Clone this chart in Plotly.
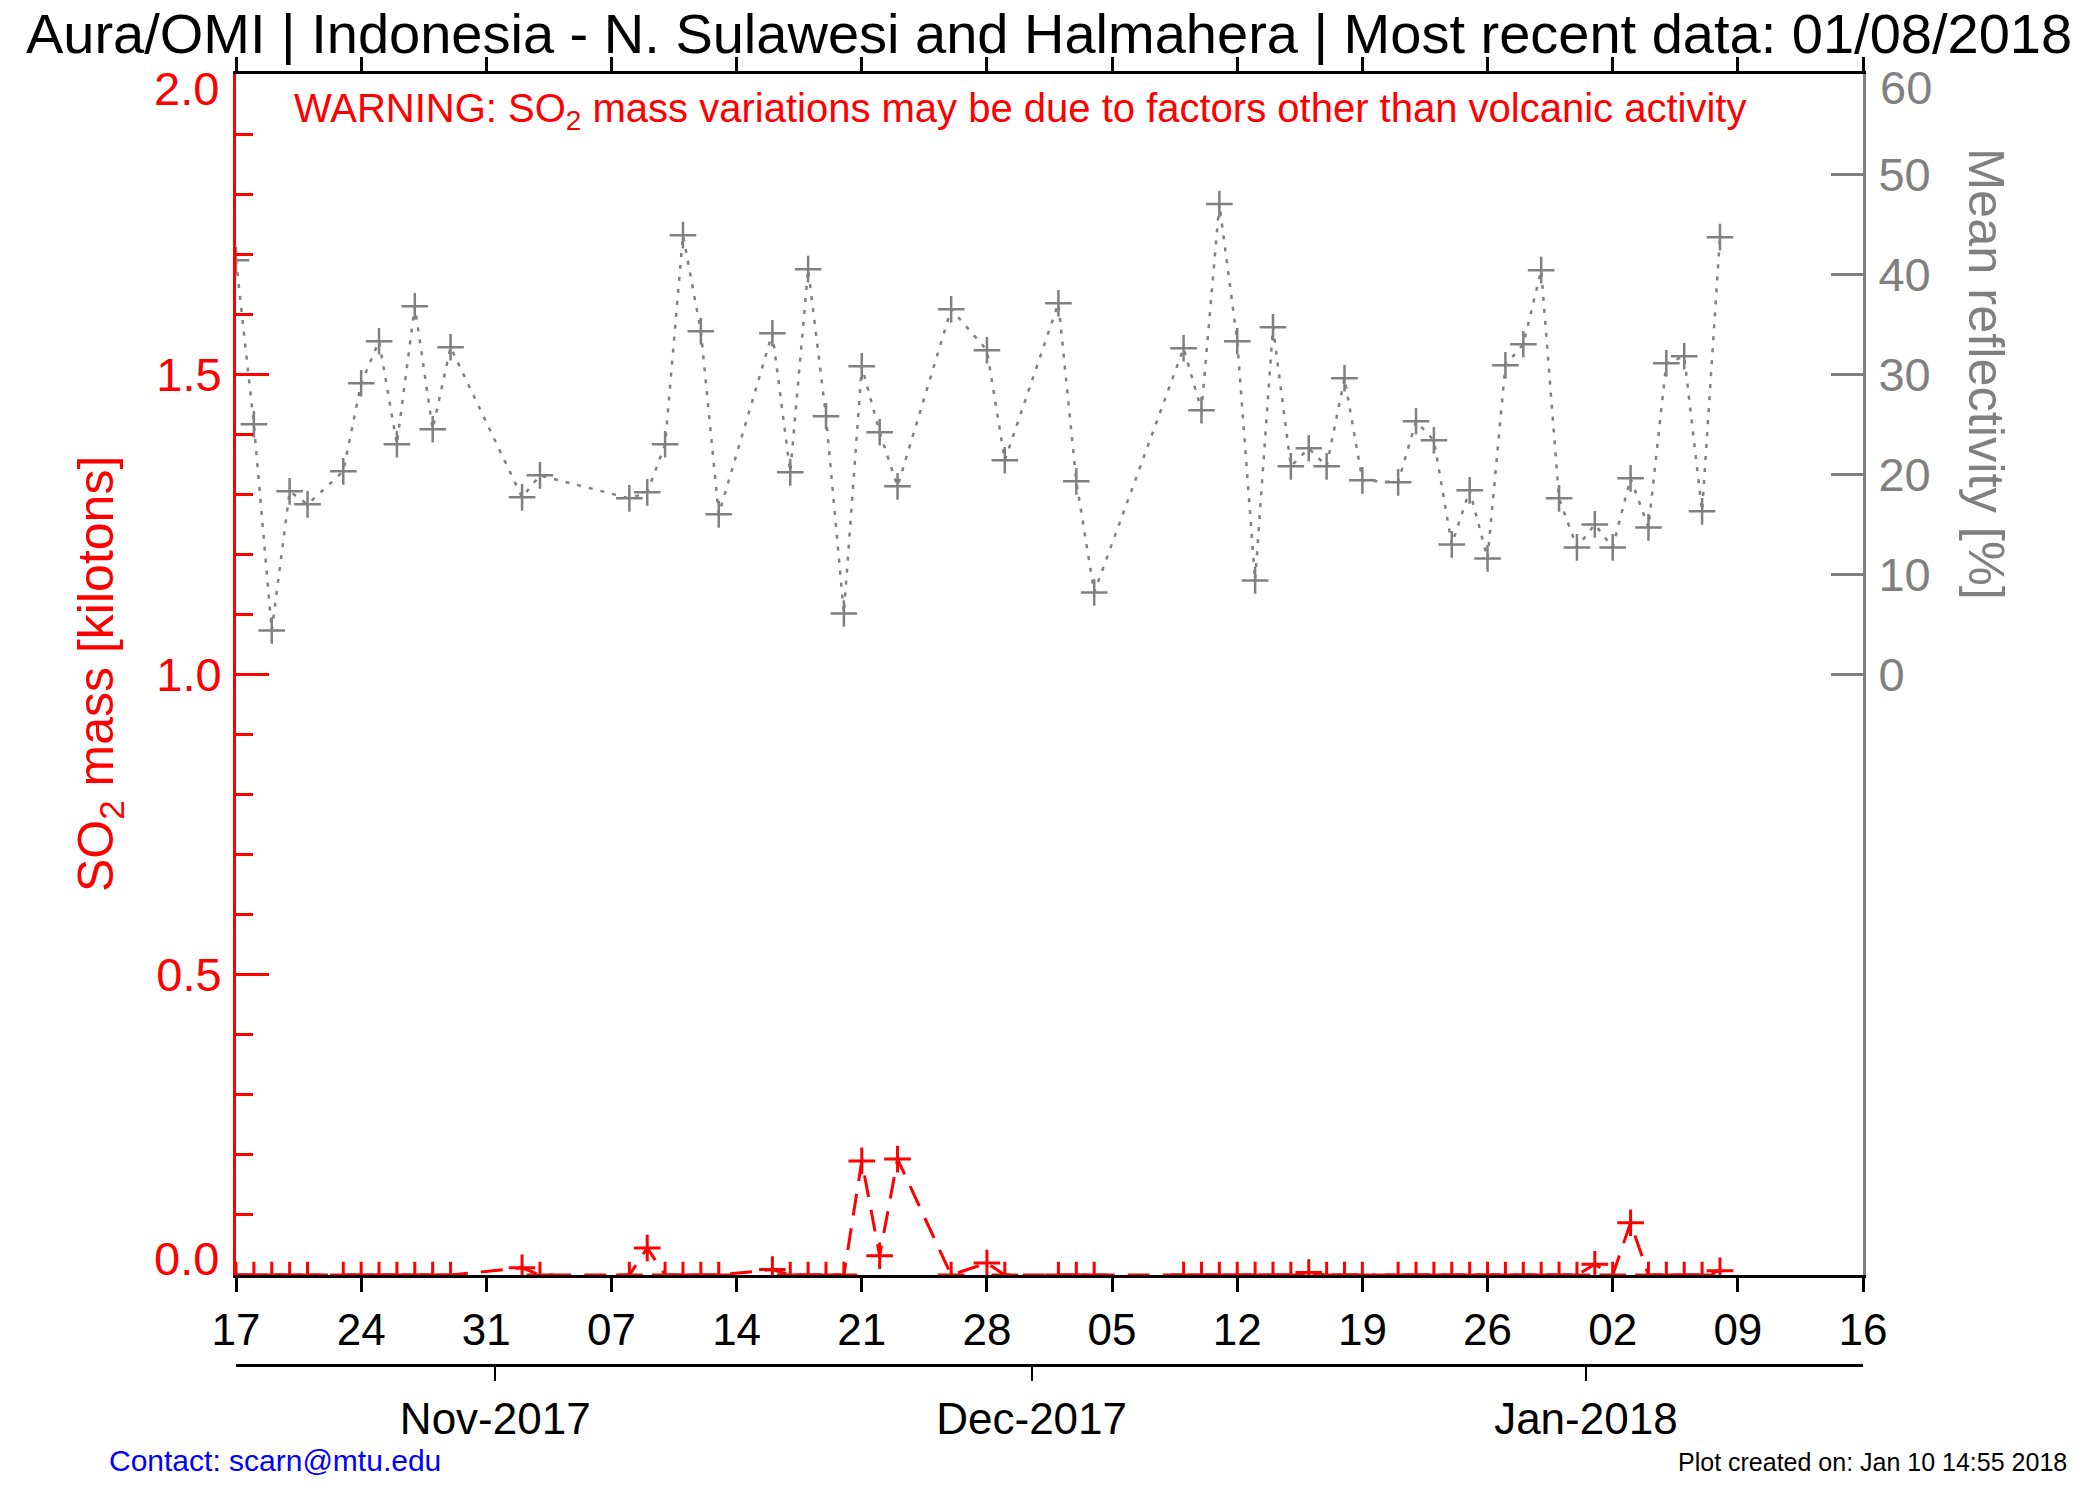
import plotly.graph_objects as go

# ---------------- data ----------------
obs_dates = [
    "2017-10-17", "2017-10-18", "2017-10-19", "2017-10-20", "2017-10-21",
    "2017-10-23", "2017-10-24", "2017-10-25", "2017-10-26", "2017-10-27",
    "2017-10-28", "2017-10-29", "2017-11-02", "2017-11-03", "2017-11-08",
    "2017-11-09", "2017-11-10", "2017-11-11", "2017-11-12", "2017-11-13",
    "2017-11-16", "2017-11-17", "2017-11-18", "2017-11-19", "2017-11-20",
    "2017-11-21", "2017-11-22", "2017-11-23", "2017-11-26", "2017-11-28",
    "2017-11-29", "2017-12-02", "2017-12-03", "2017-12-04", "2017-12-09",
    "2017-12-10", "2017-12-11", "2017-12-12", "2017-12-13", "2017-12-14",
    "2017-12-15", "2017-12-16", "2017-12-17", "2017-12-18", "2017-12-19",
    "2017-12-21", "2017-12-22", "2017-12-23", "2017-12-24", "2017-12-25",
    "2017-12-26", "2017-12-27", "2017-12-28", "2017-12-29", "2017-12-30",
    "2017-12-31", "2018-01-01", "2018-01-02", "2018-01-03", "2018-01-04",
    "2018-01-05", "2018-01-06", "2018-01-07", "2018-01-08",
]

reflectivity = [
    41.4, 25.0, 4.4, 18.3, 17.0,
    20.3, 29.1, 33.3, 23.0, 36.8,
    24.5, 32.7, 17.7, 19.9, 17.6,
    18.2, 23.0, 43.9, 34.3, 16.0,
    34.1, 20.2, 40.5, 25.8, 6.1,
    30.8, 24.2, 18.8, 36.5, 32.4,
    21.4, 37.1, 19.3, 8.2, 32.6,
    26.4, 47.0, 33.3, 9.4, 34.7,
    20.8, 22.6, 20.8, 29.6, 19.4,
    19.2, 25.3, 23.4, 13.0, 18.4,
    11.6, 30.9, 33.0, 40.4, 17.6,
    12.7, 15.0, 12.7, 19.6, 14.7,
    31.1, 31.8, 16.3, 43.7,
]

so2_mass = [
    0.0, 0.0, 0.0, 0.0, 0.0,
    0.0, 0.0, 0.0, 0.0, 0.0,
    0.0, 0.0, 0.012, 0.0, 0.0,
    0.045, 0.0, 0.0, 0.0, 0.0,
    0.009, 0.0, 0.0, 0.0, 0.0,
    0.19, 0.032, 0.193, 0.0, 0.02,
    0.0, 0.0, 0.0, 0.0, 0.0,
    0.0, 0.0, 0.0, 0.0, 0.0,
    0.0, 0.004, 0.0, 0.0, 0.0,
    0.0, 0.0, 0.0, 0.0, 0.0,
    0.0, 0.0, 0.0, 0.0, 0.0,
    0.0, 0.018, 0.0, 0.087, 0.0,
    0.0, 0.0, 0.0, 0.007,
]

x_range = ["2017-10-17", "2018-01-16"]
day_tick0 = "2017-10-17"
month_tick_dates = ["2017-10-31 12:00", "2017-11-30 12:00", "2017-12-31 12:00"]
month_tick_labels = ["Nov-2017", "Dec-2017", "Jan-2018"]
so2_tick_vals = [0.0, 0.5, 1.0, 1.5, 2.0]
so2_tick_labels = ["0.0", "0.5", "1.0", "1.5", "2.0"]
refl_tick_vals = [0, 10, 20, 30, 40, 50, 60]
refl_tick_labels = ["0", "10", "20", "30", "40", "50", "60"]

title_text = "Aura/OMI | Indonesia - N. Sulawesi and Halmahera | Most recent data: 01/08/2018"
warning_text = "WARNING: SO<sub>2</sub> mass variations may be due to factors other than volcanic activity"
left_title = "SO<sub>2</sub> mass [kilotons]"
right_title = "Mean reflectivity [%]"
contact_text = "Contact: scarn@mtu.edu"
created_text = "Plot created on: Jan 10 14:55 2018"

# ---------------- styling / geometry ----------------
RED = "#FF0000"
GRAY = "#808080"
BLUE = "#0000FF"
FONT = "Liberation Sans, Arial, Helvetica, sans-serif"

PAGE_W, PAGE_H = 2100, 1500
OFF = 8                      # default body margin of the html page
W, H = PAGE_W - OFF, PAGE_H - OFF

# page-pixel geometry of the plot box
P_LEFT, P_RIGHT, P_TOP, P_BOTTOM = 236, 1863, 74, 1275
MONTH_AXIS_Y = 1365
PAPER_BOTTOM = 1400          # page y of paper bottom

ML = P_LEFT - OFF
MR = W - (P_RIGHT - OFF)
MT = P_TOP - OFF
MB = H - (PAPER_BOTTOM - OFF)
PAPER_W = P_RIGHT - P_LEFT
PAPER_H = PAPER_BOTTOM - P_TOP


def pyf(page_y):
    return (PAPER_BOTTOM - page_y) / PAPER_H


def pxf(page_x):
    return (page_x - P_LEFT) / PAPER_W


fig = go.Figure()

fig.add_trace(go.Scatter(
    x=obs_dates, y=reflectivity, xaxis="x", yaxis="y2",
    mode="lines+markers",
    line=dict(color=GRAY, width=2.5, dash="4px,8px"),
    marker=dict(symbol="cross-thin", size=19, color=GRAY,
                line=dict(color=GRAY, width=2.5)),
    showlegend=False, hoverinfo="x+y",
))

fig.add_trace(go.Scatter(
    x=obs_dates, y=so2_mass, xaxis="x", yaxis="y",
    mode="lines+markers",
    line=dict(color=RED, width=3, dash="22px,13px"),
    marker=dict(symbol="cross-thin", size=19, color=RED,
                line=dict(color=RED, width=3)),
    showlegend=False, hoverinfo="x+y",
))

# dummy trace so the month axis is drawn
fig.add_trace(go.Scatter(
    x=[x_range[0]], y=[None], xaxis="x3", yaxis="y",
    mode="markers", showlegend=False, hoverinfo="skip",
))

fig.update_layout(
    width=W, height=H,
    margin=dict(l=ML, r=MR, t=MT, b=MB, pad=0),
    paper_bgcolor="white", plot_bgcolor="white",
    font=dict(family=FONT, color="black"),
    title=dict(text=title_text, x=(1049 - OFF) / W, xanchor="center", xref="container",
               y=1 - (33 - OFF) / H, yanchor="middle", yref="container",
               font=dict(size=56, color="black", family=FONT)),
    xaxis=dict(
        type="date", range=x_range, domain=[0, 1], anchor="y",
        tick0=day_tick0, dtick=7 * 86400000, tickformat="%d",
        ticks="outside", ticklen=14, tickwidth=2.5, tickcolor="black",
        showline=True, linecolor="black", linewidth=3, mirror="ticks",
        showgrid=False, zeroline=False, layer="below traces",
        tickfont=dict(size=44, color="black", family=FONT),
        ticklabelstandoff=0,
    ),
    xaxis3=dict(
        type="date", range=x_range, overlaying="x", anchor="free",
        position=pyf(MONTH_AXIS_Y),
        tickmode="array", tickvals=month_tick_dates, ticktext=month_tick_labels,
        ticks="outside", ticklen=14, tickwidth=2, tickcolor="black",
        showline=True, linecolor="black", linewidth=3,
        showgrid=False, zeroline=False,
        tickfont=dict(size=44, color="black", family=FONT),
        ticklabelstandoff=0,
    ),
    yaxis=dict(
        domain=[pyf(P_BOTTOM), 1], range=[0, 2], anchor="x",
        tickmode="array", tickvals=so2_tick_vals[1:-1],
        ticktext=so2_tick_labels[1:-1],
        ticks="inside", ticklen=33, tickwidth=3, tickcolor=RED,
        minor=dict(dtick=0.1, tick0=0, ticks="inside", ticklen=17,
                   tickwidth=3, tickcolor=RED, showgrid=False),
        showline=True, linecolor=RED, linewidth=3,
        showgrid=False, zeroline=False,
        tickfont=dict(size=47, color=RED, family=FONT),
        ticklabelstandoff=2,
    ),
    yaxis2=dict(
        overlaying="y", side="right", anchor="x", range=[-60, 60],
        tickmode="array", tickvals=refl_tick_vals[:-1],
        ticktext=refl_tick_labels[:-1],
        ticks="inside", ticklen=32, tickwidth=3, tickcolor=GRAY,
        showline=True, linecolor=GRAY, linewidth=3,
        showgrid=False, zeroline=False,
        tickfont=dict(size=47, color=GRAY, family=FONT),
        ticklabelstandoff=3,
    ),
)

annotations = [
    # end tick labels sit inside the axis span, as in the original
    dict(text=so2_tick_labels[-1], xref="paper", yref="y", x=pxf(221), y=so2_tick_vals[-1],
         xanchor="right", yanchor="middle", yshift=-14, showarrow=False,
         font=dict(size=47, color=RED, family=FONT)),
    dict(text=so2_tick_labels[0], xref="paper", yref="y", x=pxf(221), y=so2_tick_vals[0],
         xanchor="right", yanchor="middle", yshift=17, showarrow=False,
         font=dict(size=47, color=RED, family=FONT)),
    dict(text=refl_tick_labels[-1], xref="paper", yref="y2", x=pxf(1878), y=refl_tick_vals[-1],
         xanchor="left", yanchor="middle", yshift=-13, showarrow=False,
         font=dict(size=47, color=GRAY, family=FONT)),
    dict(text=warning_text, xref="paper", yref="paper", x=pxf(292), y=pyf(111),
         xanchor="left", yanchor="middle", showarrow=False,
         font=dict(size=40, color=RED, family=FONT)),
    dict(text=left_title, xref="paper", yref="paper", x=pxf(100), y=pyf(674),
         xanchor="center", yanchor="middle", textangle=-90, showarrow=False,
         font=dict(size=50, color=RED, family=FONT)),
    dict(text=right_title, xref="paper", yref="paper", x=pxf(1986), y=pyf(374),
         xanchor="center", yanchor="middle", textangle=90, showarrow=False,
         font=dict(size=50.5, color=GRAY, family=FONT)),
    dict(text=contact_text, xref="paper", yref="paper", x=pxf(107), y=pyf(1460),
         xanchor="left", yanchor="middle", showarrow=False,
         font=dict(size=30, color=BLUE, family=FONT)),
    dict(text=created_text, xref="paper", yref="paper", x=pxf(2069), y=pyf(1462),
         xanchor="right", yanchor="middle", showarrow=False,
         font=dict(size=25, color="black", family=FONT)),
]
fig.update_layout(annotations=annotations)

fig.write_html("out.html")
